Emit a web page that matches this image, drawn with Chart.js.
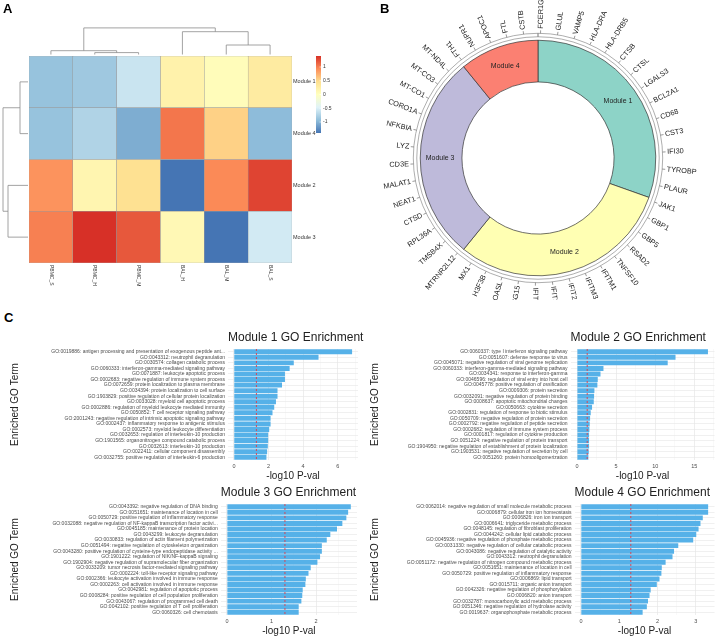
<!DOCTYPE html>
<html>
<head>
<meta charset="utf-8">
<script src="https://cdn.jsdelivr.net/npm/chart.js@4.4.1/dist/chart.umd.min.js"></script>
<style>
body { margin: 0; background: #fff; }
#fig { position: relative; width: 720px; height: 638px; overflow: hidden; font-family: 'Liberation Sans', Arial, sans-serif; }
canvas { position: absolute; }
.tag { position: absolute; font-weight: bold; font-size: 13px; line-height: 13px; color: #000; }
</style>
</head>
<body>
<div id="fig">
  <canvas id="heat" width="360" height="300" style="left:0;top:0"></canvas>
  <canvas id="donut" width="360" height="300" style="left:360px;top:0"></canvas>
  <canvas id="go1" width="380" height="155" style="left:0;top:328px"></canvas>
  <canvas id="go2" width="360" height="155" style="left:360px;top:328px"></canvas>
  <canvas id="go3" width="380" height="155" style="left:0;top:483px"></canvas>
  <canvas id="go4" width="360" height="155" style="left:360px;top:483px"></canvas>
  <div class="tag" style="left:3px;top:2px">A</div>
  <div class="tag" style="left:380px;top:2px">B</div>
  <div class="tag" style="left:4px;top:311px">C</div>
</div>
<script>
// ---- A: heatmap ----
const heatCols = ['PBMC_S', 'PBMC_H', 'PBMC_M', 'BAL_H', 'BAL_M', 'BAL_S'];
const heatRows = ['Module 1', 'Module 4', 'Module 2', 'Module 3'];
const heatModule1 = [-0.9, -0.85, -0.6, 0.2, 0.05, 0.3];
const heatModule4 = [-0.9, -0.75, -1.05, 1.05, 0.55, -0.95];
const heatModule2 = [0.9, 0.15, 0.45, -1.4, 0.95, 1.3];
const heatModule3 = [1.0, 1.4, 1.2, 0.1, -1.4, -0.55];
const heatTicks = [1, 0.5, 0, -0.5, -1];
// hclust style merges: [a, b, height], negative = leaf
const colMerge = [[-2, -3, 1], [-1, 1, 2], [-5, -6, 5], [-4, 3, 12], [2, 4, 14]];
const rowMerge = [[-1, -2, 4], [-3, -4, 10], [1, 2, 12.5]];

// ---- B: gene modules ----
const moduleNames = ['Module 1', 'Module 2', 'Module 3', 'Module 4'];
const module1Genes = ['FCER1G', 'GLUL', 'VAMP5', 'HLA-DRA', 'HLA-DRB5', 'CTSB', 'CTSL', 'LGALS3', 'BCL2A1', 'CD68', 'CST3', 'IFI30', 'TYROBP', 'PLAUR'];
const module2Genes = ['JAK1', 'GBP1', 'GBP5', 'RSAD2', 'TNFSF10', 'IFITM1', 'IFITM3', 'IFIT2', 'IFIT3', 'IFIT1', 'ISG15', 'OASL', 'H3F3B', 'MX1'];
const module3Genes = ['MTRNR2L12', 'TMSB4X', 'RPL36A', 'CTSD', 'NEAT1', 'MALAT1', 'CD3E', 'LYZ', 'NFKBIA', 'CORO1A', 'MT-CO1', 'MT-CO3', 'MT-ND4L'];
const module4Genes = ['FTH1', 'NUPR1', 'APOC1', 'FTL', 'CSTB'];
const moduleGenes = [module1Genes, module2Genes, module3Genes, module4Genes];

// ---- C: GO enrichment ----
const pThreshold = -Math.log10(0.05);

const go1Terms = [
  'GO:0019886: antigen processing and presentation of exogenous peptide ant...',
  'GO:0043312: neutrophil degranulation',
  'GO:0030574: collagen catabolic process',
  'GO:0060333: interferon-gamma-mediated signaling pathway',
  'GO:0071887: leukocyte apoptotic process',
  'GO:0002683: negative regulation of immune system process',
  'GO:0072659: protein localization to plasma membrane',
  'GO:0034394: protein localization to cell surface',
  'GO:1903829: positive regulation of cellular protein localization',
  'GO:0033028: myeloid cell apoptotic process',
  'GO:0002886: regulation of myeloid leukocyte mediated immunity',
  'GO:0050852: T cell receptor signaling pathway',
  'GO:2001243: negative regulation of intrinsic apoptotic signaling pathway',
  'GO:0002437: inflammatory response to antigenic stimulus',
  'GO:0002573: myeloid leukocyte differentiation',
  'GO:0032653: regulation of interleukin-10 production',
  'GO:1901565: organonitrogen compound catabolic process',
  'GO:0032613: interleukin-10 production',
  'GO:0022411: cellular component disassembly',
  'GO:0032755: positive regulation of interleukin-6 production'
];
const go1Scores = [6.83, 4.89, 3.46, 3.22, 2.95, 2.95, 2.78, 2.52, 2.52, 2.43, 2.33, 2.23, 2.12, 2.12, 2.04, 1.98, 1.98, 1.96, 1.92, 1.88];

const go2Terms = [
  'GO:0060337: type I interferon signaling pathway',
  'GO:0051607: defense response to virus',
  'GO:0045071: negative regulation of viral genome replication',
  'GO:0060333: interferon-gamma-mediated signaling pathway',
  'GO:0034341: response to interferon-gamma',
  'GO:0046596: regulation of viral entry into host cell',
  'GO:0045778: positive regulation of ossification',
  'GO:0009306: protein secretion',
  'GO:0032091: negative regulation of protein binding',
  'GO:0008637: apoptotic mitochondrial changes',
  'GO:0050663: cytokine secretion',
  'GO:0002831: regulation of response to biotic stimulus',
  'GO:0050709: negative regulation of protein secretion',
  'GO:0002792: negative regulation of peptide secretion',
  'GO:0002682: regulation of immune system process',
  'GO:0001817: regulation of cytokine production',
  'GO:0051224: negative regulation of protein transport',
  'GO:1904950: negative regulation of establishment of protein localization',
  'GO:1903531: negative regulation of secretion by cell',
  'GO:0051260: protein homooligomerization'
];
const go2Scores = [16.75, 12.6, 11.6, 3.38, 3.0, 2.65, 2.6, 2.22, 2.18, 2.14, 1.92, 1.75, 1.67, 1.62, 1.58, 1.54, 1.54, 1.54, 1.5, 1.45];

const go3Terms = [
  'GO:0043392: negative regulation of DNA binding',
  'GO:0051651: maintenance of location in cell',
  'GO:0050729: positive regulation of inflammatory response',
  'GO:0032088: negative regulation of NF-kappaB transcription factor activi...',
  'GO:0045185: maintenance of protein location',
  'GO:0043299: leukocyte degranulation',
  'GO:0030833: regulation of actin filament polymerization',
  'GO:0051494: negative regulation of cytoskeleton organization',
  'GO:0043280: positive regulation of cysteine-type endopeptidase activity ...',
  'GO:1901222: regulation of NIK/NF-kappaB signaling',
  'GO:1902904: negative regulation of supramolecular fiber organization',
  'GO:0033209: tumor necrosis factor-mediated signaling pathway',
  'GO:0002224: toll-like receptor signaling pathway',
  'GO:0002366: leukocyte activation involved in immune response',
  'GO:0002263: cell activation involved in immune response',
  'GO:0042981: regulation of apoptotic process',
  'GO:0008284: positive regulation of cell population proliferation',
  'GO:0043067: regulation of programmed cell death',
  'GO:0042102: positive regulation of T cell proliferation',
  'GO:0060326: cell chemotaxis'
];
const go3Scores = [2.78, 2.72, 2.68, 2.59, 2.47, 2.32, 2.24, 2.13, 2.13, 2.09, 2.03, 1.88, 1.83, 1.77, 1.76, 1.7, 1.69, 1.67, 1.61, 1.61];

const go4Terms = [
  'GO:0062014: negative regulation of small molecule metabolic process',
  'GO:0006879: cellular iron ion homeostasis',
  'GO:0006826: iron ion transport',
  'GO:0006641: triglyceride metabolic process',
  'GO:0048145: regulation of fibroblast proliferation',
  'GO:0044242: cellular lipid catabolic process',
  'GO:0045936: negative regulation of phosphate metabolic process',
  'GO:0031330: negative regulation of cellular catabolic process',
  'GO:0043086: negative regulation of catalytic activity',
  'GO:0043312: neutrophil degranulation',
  'GO:0051172: negative regulation of nitrogen compound metabolic process',
  'GO:0051651: maintenance of location in cell',
  'GO:0050729: positive regulation of inflammatory response',
  'GO:0006869: lipid transport',
  'GO:0015711: organic anion transport',
  'GO:0042326: negative regulation of phosphorylation',
  'GO:0006820: anion transport',
  'GO:0032787: monocarboxylic acid metabolic process',
  'GO:0051346: negative regulation of hydrolase activity',
  'GO:0019637: organophosphate metabolic process'
];
const go4Scores = [3.32, 3.32, 3.18, 3.12, 3.07, 3.01, 2.93, 2.54, 2.43, 2.39, 2.21, 2.11, 2.1, 2.05, 1.98, 1.82, 1.79, 1.75, 1.72, 1.61];

const FONT = "'Liberation Sans', Arial, sans-serif";
Chart.defaults.font.family = FONT;
Chart.defaults.animation = false;

// pheatmap palette (rev RdYlBu)
const heatPalette = ['#4575B4', '#91BFDB', '#E0F3F8', '#FFFFBF', '#FEE090', '#FC8D59', '#D73027'];
const heatMin = -1.4, heatMax = 1.4;

function hexRgb(h) {
  return [parseInt(h.substr(1, 2), 16), parseInt(h.substr(3, 2), 16), parseInt(h.substr(5, 2), 16)];
}
function heatColor(v) {
  let t = (v - heatMin) / (heatMax - heatMin);
  t = Math.max(0, Math.min(1, t)) * (heatPalette.length - 1);
  const i = Math.min(Math.floor(t), heatPalette.length - 2);
  const f = t - i;
  const a = hexRgb(heatPalette[i]), b = hexRgb(heatPalette[i + 1]);
  const c = a.map((x, k) => Math.round(x + (b[k] - x) * f));
  return 'rgb(' + c.join(',') + ')';
}

// draws a dendrogram from hclust merges
function drawTree(ctx, merges, leafPos, toPx, vertical) {
  const nodes = [];
  const node = i => (i < 0 ? { p: leafPos[-i - 1], h: 0 } : nodes[i - 1]);
  function seg(p1, h1, p2, h2) {
    if (vertical) { ctx.moveTo(p1, toPx(h1)); ctx.lineTo(p2, toPx(h2)); }
    else { ctx.moveTo(toPx(h1), p1); ctx.lineTo(toPx(h2), p2); }
  }
  ctx.beginPath();
  merges.forEach(function (m) {
    const a = node(m[0]), b = node(m[1]);
    seg(a.p, a.h, a.p, m[2]);
    seg(b.p, b.h, b.p, m[2]);
    seg(a.p, m[2], b.p, m[2]);
    nodes.push({ p: (a.p + b.p) / 2, h: m[2] });
  });
  ctx.stroke();
}

const heatExtras = {
  id: 'heatExtras',
  afterDraw(chart) {
    const ctx = chart.ctx, area = chart.chartArea;
    const xs = chart.scales.x, ys = chart.scales.y;
    ctx.save();
    ctx.strokeStyle = '#8c8c8c';
    ctx.lineWidth = 0.8;
    const colPos = heatCols.map((c, i) => xs.getPixelForValue(i));
    drawTree(ctx, colMerge, colPos, h => area.top - 1.5 - h * 1.9, true);
    const rowPos = heatRows.map((r, i) => ys.getPixelForValue(heatRows.length - 0.5 - i));
    drawTree(ctx, rowMerge, rowPos, h => area.left - 1 - h * 2.0, false);

    // column labels, reading downward
    ctx.fillStyle = '#333';
    ctx.font = '5px ' + FONT;
    ctx.textAlign = 'left';
    ctx.textBaseline = 'middle';
    heatCols.forEach(function (c, i) {
      ctx.save();
      ctx.translate(colPos[i], area.bottom + 2);
      ctx.rotate(Math.PI / 2);
      ctx.fillText(c, 0, 0);
      ctx.restore();
    });

    // colour key
    const kx = area.right + 24, kw = 5, ky = area.top, kh = 77;
    const grad = ctx.createLinearGradient(0, ky, 0, ky + kh);
    heatPalette.forEach((c, i) => grad.addColorStop(1 - i / (heatPalette.length - 1), c));
    ctx.fillStyle = grad;
    ctx.fillRect(kx, ky, kw, kh);
    ctx.fillStyle = '#333';
    ctx.strokeStyle = '#fff';
    ctx.lineWidth = 0.6;
    heatTicks.forEach(function (v) {
      const y = ky + (heatMax - v) / (heatMax - heatMin) * kh;
      ctx.beginPath(); ctx.moveTo(kx + kw - 1.5, y); ctx.lineTo(kx + kw, y); ctx.stroke();
      ctx.fillText(String(v), kx + kw + 2, y);
    });
    ctx.restore();
  }
};

function Heatmap() {
  const rowsData = [heatModule1, heatModule4, heatModule2, heatModule3];
  const datasets = [];
  for (let r = heatRows.length - 1; r >= 0; r--) {
    datasets.push({
      label: heatRows[r],
      data: heatCols.map(() => 1),
      backgroundColor: rowsData[r].map(heatColor),
      borderColor: '#9a9a9a',
      borderWidth: 0.5,
      borderSkipped: false,
      barPercentage: 1,
      categoryPercentage: 1
    });
  }
  new Chart(document.getElementById('heat'), {
    type: 'bar',
    data: { labels: heatCols, datasets: datasets },
    options: {
      responsive: false,
      events: [],
      layout: { padding: { left: 29, top: 56, right: 0, bottom: 37 } },
      plugins: { legend: { display: false }, tooltip: { enabled: false } },
      scales: {
        x: { stacked: true, display: false },
        y: {
          stacked: true, min: 0, max: 4, position: 'right',
          grid: { display: false, drawTicks: false },
          border: { display: false },
          afterBuildTicks: ax => { ax.ticks = [3.5, 2.5, 1.5, 0.5].map(v => ({ value: v })); },
          afterFit: s => { s.width = 68; },
          ticks: {
            callback: v => heatRows[Math.floor(4 - v)],
            font: { size: 5.5 }, color: '#333', padding: 1
          }
        }
      }
    },
    plugins: [heatExtras]
  });
}

const moduleColors = ['#8DD3C7', '#FFFFB3', '#BEBADA', '#FB8072'];

const donutLabels = {
  id: 'donutLabels',
  afterDatasetsDraw(chart) {
    const ctx = chart.ctx;
    const track = chart.getDatasetMeta(0).data[0];
    const arcs = chart.getDatasetMeta(2).data;
    const rTick = track.outerRadius;
    ctx.save();
    ctx.strokeStyle = '#555';
    ctx.lineWidth = 0.6;
    ctx.fillStyle = '#222';
    ctx.textBaseline = 'middle';
    arcs.forEach(function (arc, m) {
      const genes = moduleGenes[m];
      const span = (arc.endAngle - arc.startAngle) / genes.length;
      ctx.font = '7.3px ' + FONT;
      genes.forEach(function (g, j) {
        const a = arc.startAngle + (j + 0.15) * span;
        const c = Math.cos(a), s = Math.sin(a);
        ctx.beginPath();
        ctx.moveTo(arc.x + rTick * c, arc.y + rTick * s);
        ctx.lineTo(arc.x + (rTick + 3) * c, arc.y + (rTick + 3) * s);
        ctx.stroke();
        const theta = (a + Math.PI / 2 + 2 * Math.PI) % (2 * Math.PI);
        const flip = theta > Math.PI + 0.03 && theta < 1.78 * Math.PI;
        ctx.save();
        ctx.translate(arc.x + (rTick + 4.5) * c, arc.y + (rTick + 4.5) * s);
        ctx.rotate(flip ? a + Math.PI : a);
        ctx.textAlign = flip ? 'right' : 'left';
        ctx.fillText(g, 0, 0);
        ctx.restore();
      });
      const mid = (arc.startAngle + arc.endAngle) / 2;
      const r = (arc.innerRadius + arc.outerRadius) / 2 + 1;
      ctx.font = '7px ' + FONT;
      ctx.textAlign = 'center';
      ctx.fillText(moduleNames[m], arc.x + r * Math.cos(mid), arc.y + r * Math.sin(mid));
    });
    ctx.restore();
  }
};

function Modulos() {
  new Chart(document.getElementById('donut'), {
    type: 'doughnut',
    data: {
      labels: moduleNames,
      datasets: [
        { data: [1], backgroundColor: '#fff', borderColor: '#777', borderWidth: 0.6, weight: 1 },
        { data: [1], backgroundColor: 'rgba(0,0,0,0)', borderWidth: 0, weight: 1 },
        { data: moduleGenes.map(g => g.length), backgroundColor: moduleColors, borderColor: '#333', borderWidth: 0.7, weight: 12 }
      ]
    },
    options: {
      responsive: false,
      events: [],
      cutout: '61%',
      layout: { padding: { left: 53, right: 57, top: 33, bottom: 17 } },
      plugins: { legend: { display: false }, tooltip: { enabled: false } }
    },
    plugins: [donutLabels]
  });
}

const goExtras = {
  id: 'goExtras',
  afterDatasetsDraw(chart) {
    const ctx = chart.ctx, area = chart.chartArea;
    const x = chart.scales.x.getPixelForValue(pThreshold);
    ctx.save();
    ctx.strokeStyle = 'rgba(226,60,70,0.9)';
    ctx.lineWidth = 1;
    ctx.setLineDash([2, 2]);
    ctx.beginPath();
    ctx.moveTo(x, area.top);
    ctx.lineTo(x, area.bottom);
    ctx.stroke();
    ctx.restore();
  },
  afterDraw(chart, args, opts) {
    const ctx = chart.ctx, area = chart.chartArea;
    ctx.save();
    ctx.fillStyle = '#222';
    ctx.font = '12px ' + FONT;
    ctx.textAlign = 'left';
    ctx.textBaseline = 'middle';
    ctx.fillText(opts.title, area.left, area.top - 11);
    ctx.restore();
  }
};

function GraficaGO(id, title, terms, scores, step, plotLeft, plotRight) {
  const canvas = document.getElementById(id);
  const top = Math.max.apply(null, scores);
  const xMin = -0.05 * top, xMax = 1.05 * top;
  const half = step / 2;
  const isMajor = v => Math.abs(v / step - Math.round(v / step)) < 1e-6;
  new Chart(canvas, {
    type: 'bar',
    data: {
      labels: terms,
      datasets: [{ data: scores, backgroundColor: '#56B1E8', barPercentage: 0.9, categoryPercentage: 1 }]
    },
    options: {
      indexAxis: 'y',
      responsive: false,
      events: [],
      layout: { padding: { left: 4, top: 21, right: canvas.width - plotRight, bottom: 0 } },
      plugins: { legend: { display: false }, tooltip: { enabled: false }, goExtras: { title: title } },
      scales: {
        x: {
          min: xMin, max: xMax,
          afterBuildTicks: function (ax) {
            const t = [];
            for (let k = Math.ceil(xMin / half); k * half <= xMax; k++) t.push({ value: k * half });
            ax.ticks = t;
          },
          afterFit: s => { s.height = 23; },
          grid: {
            drawTicks: false,
            color: c => (isMajor(c.tick.value) ? '#E6E6E6' : '#F3F3F3'),
            lineWidth: c => (isMajor(c.tick.value) ? 0.7 : 0.5)
          },
          border: { display: false },
          ticks: {
            callback: v => (isMajor(v) ? String(Math.round(v)) : ''),
            font: { size: 5.5 }, color: '#4D4D4D', padding: 3, maxRotation: 0
          },
          title: { display: true, text: '-log10 P-val', font: { size: 10 }, color: '#222', padding: { top: 0, bottom: 1 } }
        },
        y: {
          afterFit: s => { s.width = plotLeft - 4; },
          grid: { offset: false, drawTicks: false, color: '#E6E6E6', lineWidth: 0.6 },
          border: { display: false },
          ticks: { autoSkip: false, font: { size: 5 }, color: '#4D4D4D', padding: 3 },
          title: { display: true, text: 'Enriched GO Term', font: { size: 10 }, color: '#222', padding: { top: 5, bottom: 0 } }
        }
      }
    },
    plugins: [goExtras]
  });
}

Heatmap();
Modulos();
GraficaGO('go1', 'Module 1 GO Enrichment', go1Terms, go1Scores, 2, 228, 358);
GraficaGO('go2', 'Module 2 GO Enrichment', go2Terms, go2Scores, 5, 210.5, 354.5);
GraficaGO('go3', 'Module 3 GO Enrichment', go3Terms, go3Scores, 1, 220.8, 357);
GraficaGO('go4', 'Module 4 GO Enrichment', go4Terms, go4Scores, 1, 214.6, 354.5);
</script>
</body>
</html>
